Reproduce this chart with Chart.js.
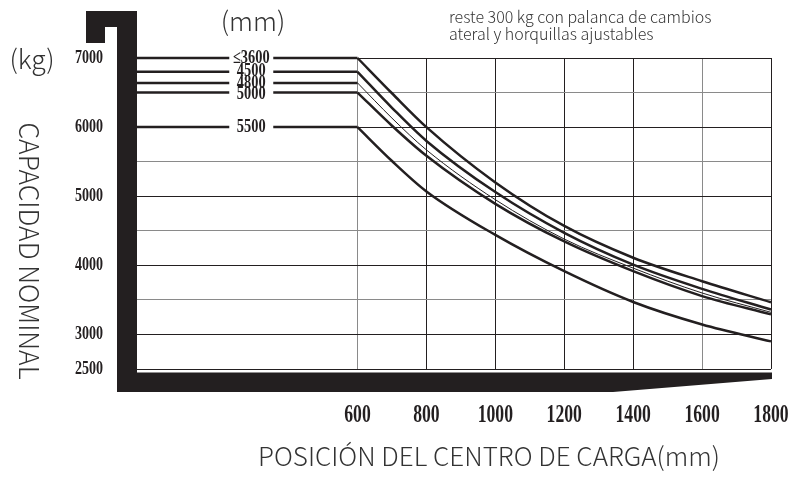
<!DOCTYPE html>
<html>
<head>
<meta charset="utf-8">
<script src="https://cdn.jsdelivr.net/npm/chart.js@4.4.1/dist/chart.umd.min.js"></script>
<style>
  html, body { margin: 0; padding: 0; background: #fff; }
  #wrap { width: 791px; height: 483px; }
</style>
</head>
<body>
<div id="wrap"><canvas id="chart" width="791" height="483"></canvas></div>
<script>
// load centre (mm) on the x axis
const xMin = -40
const xMax = 1800
const xTicks = [600, 800, 1000, 1200, 1400, 1600, 1800]
const yTickLabels = [7000, 6000, 5000, 4000, 3000, 2500]

// lift height (mm) of each curve and its flat capacity up to 600 mm
const liftLabels = ["≤3600", "4500", "4800", "5000", "5500"]
const ratedLoad = [7000, 6800, 6640, 6500, 6000]

// capacity (kg) at each load centre
const loadCenters = [600, 700, 800, 1000, 1200, 1400, 1600, 1800]
const load3600 = [7000, 6490, 6000, 5200, 4570, 4110, 3770, 3465]
const load4500 = [6800, 6280, 5800, 5060, 4470, 4010, 3660, 3360]
const load4800 = [6640, 6130, 5670, 4950, 4380, 3960, 3600, 3320]
const load5000 = [6500, 6020, 5585, 4890, 4345, 3915, 3555, 3290]
const load5500 = [6000, 5510, 5070, 4440, 3915, 3470, 3145, 2900]
const curves = [load3600, load4500, load4800, load5000, load5500]

const INK = "#231f20"
const GRAY = "#8a8a8a"
const SANS = '"Noto Sans CJK SC", "Noto Sans", sans-serif'

const datasets = []
liftLabels.forEach((label, i) => {
    datasets.push({
        label: label + " flat",
        data: [{x: xMin, y: ratedLoad[i]}, {x: loadCenters[0], y: ratedLoad[i]}],
        borderColor: INK,
        borderWidth: 2.5,
        pointRadius: 0,
        showLine: true,
        clip: false
    })
    datasets.push({
        label: label,
        data: loadCenters.map((x, j) => ({x: x, y: curves[i][j]})),
        borderColor: INK,
        borderWidth: i == 2 ? 1 : 2.5,
        pointRadius: 0,
        showLine: true,
        cubicInterpolationMode: "monotone",
        clip: false
    })
})

function condensedText(ctx, text, x, y, align, size, squeeze){
    ctx.save()
    ctx.translate(x, y)
    ctx.scale(squeeze, 1)
    ctx.font = `bold ${size}px "Liberation Serif", "DejaVu Serif", serif`
    ctx.textAlign = align
    ctx.textBaseline = "middle"
    ctx.fillStyle = INK
    ctx.fillText(text, 0, 0)
    ctx.restore()
}

const decorations = {
    id: "decorations",
    afterDraw(chart){
        const ctx = chart.ctx
        const area = chart.chartArea
        const xs = chart.scales.x
        const ys = chart.scales.y

        // gaps in the flat lines with the lift height labels
        const labelX = (area.left + xs.getPixelForValue(loadCenters[0])) / 2 + 4
        ctx.fillStyle = "#fff"
        ctx.fillRect(labelX - 22, ys.getPixelForValue(ratedLoad[0]) - 6, 44, ys.getPixelForValue(ratedLoad[3]) - ys.getPixelForValue(ratedLoad[0]) + 12)
        ctx.fillRect(labelX - 22, ys.getPixelForValue(ratedLoad[4]) - 7, 44, 14)
        const labelOffsets = [0, 0, 0, 2, 0]
        liftLabels.forEach((label, i) => {
            const y = ys.getPixelForValue(ratedLoad[i]) + labelOffsets[i]
            condensedText(ctx, label, labelX, y, "center", 18, 0.8)
        })

        // thick black frame
        ctx.fillStyle = INK
        const barL = area.left - 20
        ctx.beginPath()
        ctx.moveTo(barL - 31, 11)
        ctx.lineTo(area.left, 11)
        ctx.lineTo(area.left, area.bottom + 3.5)
        ctx.lineTo(area.right + 1, area.bottom + 3.5)
        ctx.lineTo(area.right + 1, area.bottom + 10)
        ctx.lineTo(area.right - 158, area.bottom + 23)
        ctx.lineTo(barL, area.bottom + 23)
        ctx.lineTo(barL, 27)
        ctx.lineTo(barL - 12, 27)
        ctx.lineTo(barL - 12, 43)
        ctx.lineTo(barL - 31, 43)
        ctx.closePath()
        ctx.fill()

        // tick labels
        yTickLabels.forEach(v => {
            condensedText(ctx, String(v), area.left - 34, ys.getPixelForValue(v), "right", 19.5, 0.72)
        })
        xTicks.forEach(v => {
            condensedText(ctx, String(v), xs.getPixelForValue(v), area.bottom + 46, "center", 26, 0.68)
        })

        // titles and notes
        ctx.save()
        ctx.fillStyle = "#333"
        ctx.textBaseline = "middle"
        ctx.textAlign = "center"
        ctx.font = `300 26.5px ${SANS}`
        ctx.fillText("(mm)", 253, 21)
        ctx.fillText("(kg)", 32, 59)
        ctx.font = `300 26px ${SANS}`
        ctx.textBaseline = "alphabetic"
        ctx.fillText("POSICIÓN DEL CENTRO DE CARGA(mm)", 489, 466)
        ctx.textBaseline = "middle"
        ctx.save()
        ctx.translate(29, 251)
        ctx.rotate(Math.PI / 2)
        ctx.font = `300 26.5px ${SANS}`
        ctx.fillText("CAPACIDAD NOMINAL", 0, 0)
        ctx.restore()
        ctx.textAlign = "left"
        ctx.font = `300 16px ${SANS}`
        ctx.fillText("reste 300 kg con palanca de cambios", 449, 17)
        ctx.fillText("ateral y horquillas ajustables", 449, 34)
        ctx.restore()
    }
}

const chart = new Chart(document.querySelector("#chart"), {
    type: "scatter",
    data: { datasets: datasets },
    options: {
        responsive: false,
        animation: false,
        layout: { padding: { left: 137, right: 20, top: 58, bottom: 114 } },
        plugins: { legend: { display: false }, tooltip: { enabled: false } },
        scales: {
            x: {
                type: "linear",
                min: xMin,
                max: xMax,
                afterBuildTicks: scale => { scale.ticks = xTicks.map(v => ({value: v})) },
                ticks: { display: false },
                border: { display: false },
                grid: {
                    drawTicks: false,
                    tickLength: 0,
                    lineWidth: 1,
                    color: ctx => (ctx.tick && (ctx.tick.value == 600 || ctx.tick.value == 1600)) ? GRAY : INK
                }
            },
            y: {
                min: 2500,
                max: 7000,
                ticks: { display: false, stepSize: 500 },
                border: { display: false },
                grid: {
                    drawTicks: false,
                    tickLength: 0,
                    lineWidth: 1,
                    color: ctx => (ctx.tick && ctx.tick.value % 1000 == 500 && ctx.tick.value != 2500) ? GRAY : INK
                }
            }
        }
    },
    plugins: [decorations]
})
</script>
</body>
</html>
